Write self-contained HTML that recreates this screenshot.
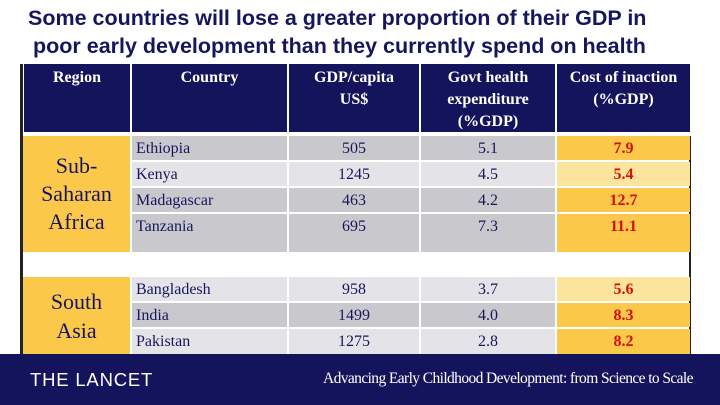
<!DOCTYPE html>
<html><head><meta charset="utf-8"><style>
body{margin:0;width:720px;height:405px;overflow:hidden;background:#fff;position:relative;font-family:"Liberation Serif",serif}
.a{position:absolute;box-sizing:border-box}
.t{font-family:"Liberation Sans",sans-serif;font-weight:bold;color:#16165e;font-size:21.5px;white-space:nowrap}
.h{background:#14145c;color:#fff;font-weight:bold;font-size:16px;text-align:center;line-height:22px;padding-top:3px;font-family:"Liberation Serif",serif}
.c{font-size:16px;color:#16165e;line-height:25px;font-family:"Liberation Serif",serif}
.r{color:#d01010;font-weight:bold;text-align:center}
</style></head><body>
<div class="a t" style="left:28px;top:6px">Some countries will lose a greater proportion of their GDP in</div>
<div class="a t" style="left:33px;top:34px">poor early development than they currently spend on health</div>
<div id="tbl"></div>
<div class="a" style="left:0;top:354px;width:720px;height:51px;background:#14145c"></div>
<div class="a" style="left:30px;top:369px;color:#fff;font-family:'Liberation Sans',sans-serif;font-size:18.5px;letter-spacing:0.8px">THE LANCET</div>
<div class="a" style="left:323px;top:370px;color:#fff;font-size:15.5px;letter-spacing:-0.6px;white-space:nowrap;font-family:'Liberation Serif',serif">Advancing Early Childhood Development: from Science to Scale</div>
<script>
const countries=["Ethiopia","Kenya","Madagascar","Tanzania","Bangladesh","India","Pakistan"];
const gdp=["505","1245","463","695","958","1499","1275"];
const govt=["5.1","4.5","4.2","7.3","3.7","4.0","2.8"];
const cost=["7.9","5.4","12.7","11.1","5.6","8.3","8.2"];
const rowTop=[136,162,188,214,277,303,329];
const rowH=[24,24,24,38,24,24,25];
const shade=[1,0,1,1,0,1,0];
const costLight=[0,1,0,0,1,0,0];
const cols=[[22,108],[132,155],[289,130],[421,134],[557,133]];
const body=document.body;
function box(x,y,w,h,bg,cls,txt,name,extra){const d=document.createElement('div');d.className='a '+(cls||'');d.style.cssText=`left:${x}px;top:${y}px;width:${w}px;height:${h}px;background:${bg};`+(extra||'');if(txt!=null)d.innerHTML=txt;


body.appendChild(d);return d;}
box(20,64,3,291,'#222','', null,'table-left-border');
const heads=["Region","Country","GDP/capita<br>US$","Govt health<br>expenditure<br>(%GDP)","Cost of inaction<br>(%GDP)"];
cols.forEach((c,i)=>box(c[0]+(i?0:2),64,c[1]-(i?0:2),68,'#14145c','h',heads[i],'header-cell'));
box(689,136,2,218,'#222','',null,'table-right-border');
countries.forEach((n,i)=>{const y=rowTop[i],h=rowH[i];const bg=shade[i]?'#c9c9cd':'#e4e4e8';
box(cols[1][0],y,cols[1][1],h,bg,'c',n,'country-cell','padding-left:4px');
box(cols[2][0],y,cols[2][1],h,bg,'c',gdp[i],'gdp-cell','text-align:center');
box(cols[3][0],y,cols[3][1],h,bg,'c',govt[i],'govt-cell','text-align:center');
box(cols[4][0],y,cols[4][1],h,costLight[i]?'#fde49c':'#fcc84a','c r',cost[i],'cost-cell');});
box(23,136,107,116,'#fcc84a','c','Sub-<br>Saharan<br>Africa','region-ssa','text-align:center;font-size:22px;line-height:28px;padding-top:16px');
box(23,277,107,77,'#fcc84a','c','South<br>Asia','region-south-asia','text-align:center;font-size:22px;line-height:29px;padding-top:10px');
</script>
</body></html>
